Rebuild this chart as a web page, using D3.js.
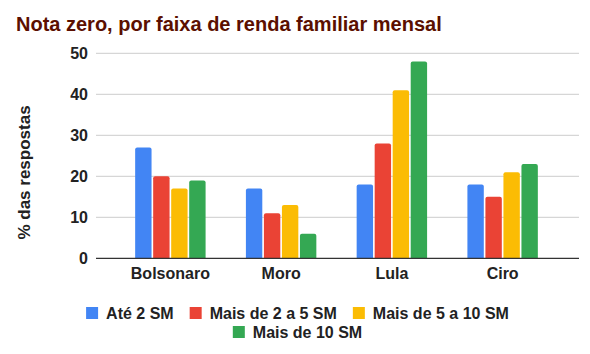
<!DOCTYPE html>
<html lang="pt">
<head>
<meta charset="UTF-8">
<title>Nota zero, por faixa de renda familiar mensal</title>
<script src="https://cdnjs.cloudflare.com/ajax/libs/d3/7.8.5/d3.min.js"></script>
<style>
  body { margin: 0; background: #fff; }
  text { font-family: "Liberation Sans", Arial, sans-serif; font-weight: bold; }
</style>
</head>
<body>
<svg width="590" height="354"></svg>
<script>
    const candidates = ["Bolsonaro", "Moro", "Lula", "Ciro"];
    const series = ["Até 2 SM", "Mais de 2 a 5 SM", "Mais de 5 a 10 SM", "Mais de 10 SM"];
    const colors = ["#4285f4", "#ea4335", "#fbbc04", "#34a853"];
    // values per series, in the order of candidates
    const ate2 = [27, 17, 18, 18];
    const de2a5 = [20, 11, 28, 15];
    const de5a10 = [17, 13, 41, 21];
    const mais10 = [19, 6, 48, 23];
    const yTicks = [0, 10, 20, 30, 40, 50];

    const values = [ate2, de2a5, de5a10, mais10];
    const svg = d3.select("svg");

    const plotLeft = 96, plotRight = 579;
    const y = d3.scaleLinear().domain([0, 50]).range([258.3, 53.3]);
    const x0 = d3.scaleBand().domain(candidates).range([115, 558]).paddingInner(0.364).paddingOuter(0.182);
    const x1 = d3.scaleBand().domain(series).range([0, x0.bandwidth()]).paddingInner(0.09);

    svg.append("text")
        .attr("x", 16).attr("y", 31)
        .attr("font-size", 20)
        .attr("fill", "#5b0f00")
        .text("Nota zero, por faixa de renda familiar mensal");

    // gridlines
    svg.append("g").selectAll("line")
        .data(yTicks.filter(d => d > 0))
        .enter().append("line")
        .attr("x1", plotLeft).attr("x2", plotRight)
        .attr("y1", d => y(d)).attr("y2", d => y(d))
        .attr("stroke", "#cccccc").attr("stroke-width", 1);

    svg.append("g").selectAll("text")
        .data(yTicks)
        .enter().append("text")
        .attr("x", 88).attr("y", d => y(d))
        .attr("dy", "0.35em")
        .attr("text-anchor", "end")
        .attr("font-size", 16)
        .attr("fill", "#222")
        .text(d => d);

    // bars
    const groups = svg.append("g").selectAll("g")
        .data(candidates)
        .enter().append("g")
        .attr("transform", d => "translate(" + x0(d) + ",0)");

    groups.selectAll("path")
        .data((c, ci) => series.map((s, si) => ({ s: s, i: si, v: values[si][ci] })))
        .enter().append("path")
        .attr("fill", d => colors[d.i])
        .attr("d", d => {
            const bx = x1(d.s), w = x1.bandwidth(), top = y(d.v), bot = y(0), r = 2;
            return "M" + bx + "," + bot + "V" + (top + r) + "Q" + bx + "," + top + " " + (bx + r) + "," + top +
                "H" + (bx + w - r) + "Q" + (bx + w) + "," + top + " " + (bx + w) + "," + (top + r) + "V" + bot + "Z";
        });

    // baseline
    svg.append("line")
        .attr("x1", plotLeft).attr("x2", plotRight)
        .attr("y1", y(0)).attr("y2", y(0))
        .attr("stroke", "#333").attr("stroke-width", 1.3);

    svg.append("g").selectAll("text")
        .data(candidates)
        .enter().append("text")
        .attr("x", d => x0(d) + x0.bandwidth() / 2)
        .attr("y", 279)
        .attr("text-anchor", "middle")
        .attr("font-size", 16)
        .attr("fill", "#222")
        .text(d => d);

    svg.append("text")
        .attr("transform", "translate(30,172.5) rotate(-90)")
        .attr("text-anchor", "middle")
        .attr("font-size", 17)
        .attr("fill", "#222")
        .text("% das respostas");

    // legend
    const rows = [[0, 1, 2], [3]];
    const rowY = [313, 332];
    rows.forEach((row, ri) => {
        const g = svg.append("g");
        let cx = 0;
        row.forEach(si => {
            g.append("rect")
                .attr("x", cx).attr("y", rowY[ri] - 6)
                .attr("width", 12).attr("height", 12)
                .attr("fill", colors[si]);
            const t = g.append("text")
                .attr("x", cx + 20).attr("y", rowY[ri])
                .attr("dy", "0.36em")
                .attr("font-size", 16)
                .attr("fill", "#222")
                .text(series[si]);
            cx += 20 + t.node().getComputedTextLength() + 16;
        });
        const total = cx - 16;
        g.attr("transform", "translate(" + (297.5 - total / 2) + ",0)");
    });
</script>
</body>
</html>
